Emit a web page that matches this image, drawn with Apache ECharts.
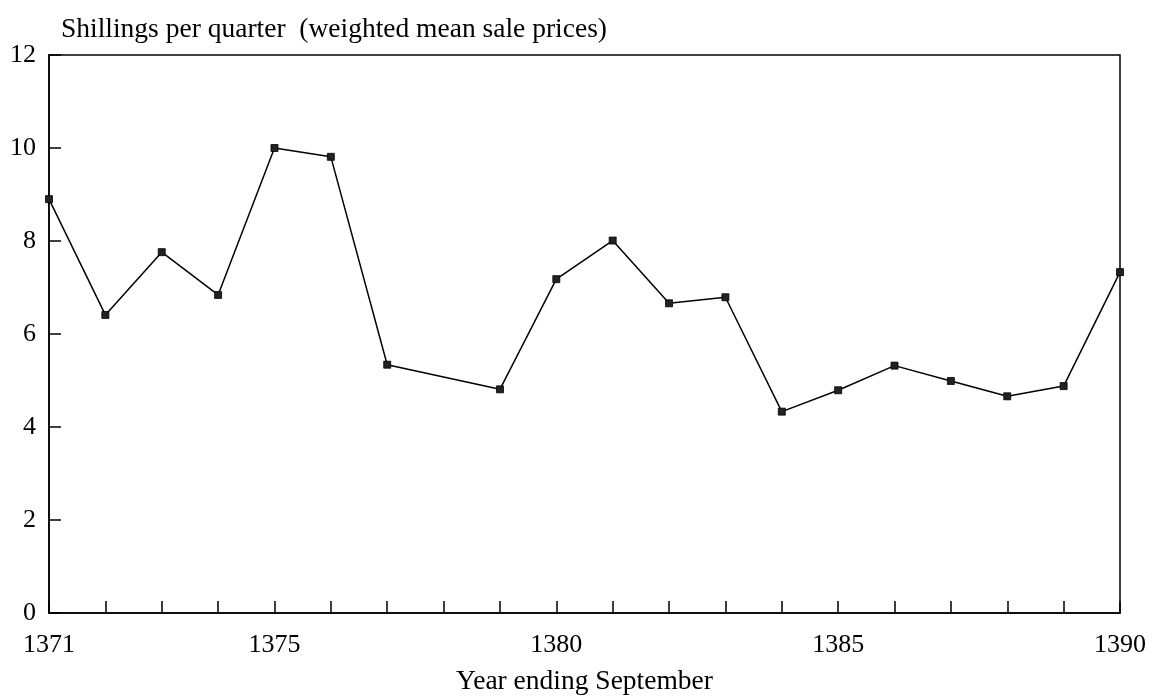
<!DOCTYPE html>
<html>
<head>
<meta charset="utf-8">
<script src="https://cdn.jsdelivr.net/npm/echarts@6/dist/echarts.min.js"></script>
<style>
  html, body { margin: 0; padding: 0; background: #fff; }
  #chart { width: 1154px; height: 700px; }
</style>
</head>
<body>
<div id="chart"></div>
<script>
// years ending September; 1378 has no value
const years = [1371, 1372, 1373, 1374, 1375, 1376, 1377, 1378, 1379, 1380,
  1381, 1382, 1383, 1384, 1385, 1386, 1387, 1388, 1389, 1390]
const prices = [8.9, 6.41, 7.76, 6.84, 10.0, 9.81, 5.34, null, 4.81, 7.18,
  8.01, 6.66, 6.79, 4.33, 4.79, 5.32, 4.99, 4.66, 4.88, 7.33]
const labelledYears = [1371, 1375, 1380, 1385, 1390]

const font = 'Liberation Serif'
const chart = echarts.init(document.getElementById('chart'))

chart.setOption({
  backgroundColor: '#fff',
  animation: false,
  title: {
    text: 'Shillings per quarter  (weighted mean sale prices)',
    left: 56,
    top: 11,
    textStyle: { fontFamily: font, fontSize: 27.5, fontWeight: 'normal', color: '#000' },
  },
  grid: {
    left: 49, right: 34, top: 55, bottom: 87,
    outerBoundsMode: 'none',
    containLabel: false,
    show: true, borderColor: '#000', borderWidth: 1.5,
  },
  xAxis: {
    type: 'value',
    min: 1371,
    max: 1390,
    interval: 1,
    name: 'Year ending September',
    nameLocation: 'middle',
    nameGap: 55,
    nameTextStyle: { fontFamily: font, fontSize: 27.5, color: '#000' },
    axisLine: { lineStyle: { color: '#000', width: 1.5 } },
    axisTick: { inside: true, length: 12, lineStyle: { color: '#000', width: 1.5 } },
    axisLabel: {
      margin: 19,
      fontFamily: font,
      fontSize: 26,
      color: '#000',
      showMinLabel: true,
      showMaxLabel: true,
      formatter: (v) => (labelledYears.includes(v) ? String(v) : ''),
    },
    splitLine: { show: false },
  },
  yAxis: {
    type: 'value',
    min: 0,
    max: 12,
    interval: 2,
    axisLine: { show: true, lineStyle: { color: '#000', width: 1.5 } },
    axisTick: { show: true, inside: true, length: 12, lineStyle: { color: '#000', width: 1.5 } },
    axisLabel: { margin: 13, fontFamily: font, fontSize: 26, color: '#000' },
    splitLine: { show: false },
  },
  series: [
    {
      type: 'line',
      data: years.map((y, i) => [y, prices[i]]),
      connectNulls: true,
      symbol: 'rect',
      symbolSize: 7,
      showAllSymbol: true,
      lineStyle: { color: '#000', width: 1.5 },
      itemStyle: { color: '#222', borderColor: '#000', borderWidth: 0.8 },
    },
  ],
})
</script>
</body>
</html>
